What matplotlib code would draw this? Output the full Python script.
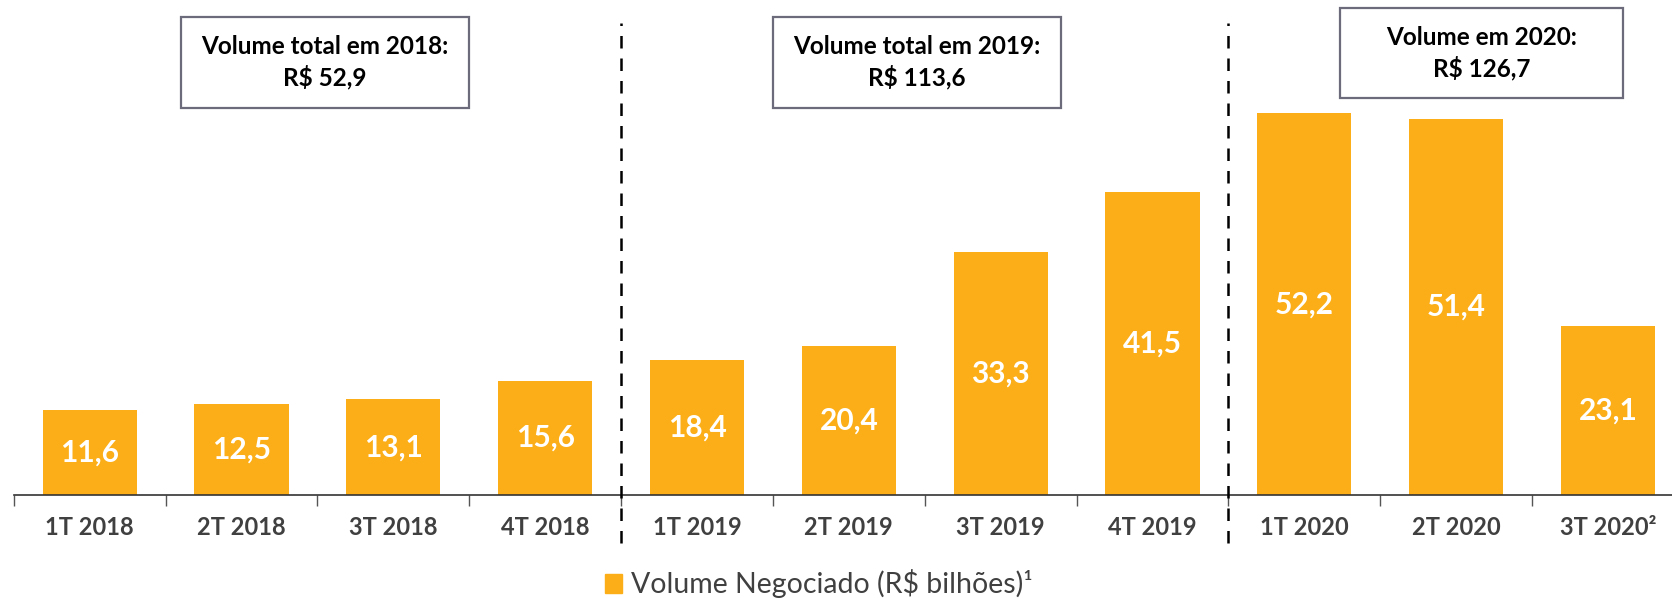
import matplotlib
matplotlib.use("Agg")
import matplotlib.pyplot as plt
from matplotlib.patches import Rectangle
import numpy as np

categories = ["1T 2018", "2T 2018", "3T 2018", "4T 2018",
              "1T 2019", "2T 2019", "3T 2019", "4T 2019",
              "1T 2020", "2T 2020", "3T 2020²"]
values = [11.6, 12.5, 13.1, 15.6, 18.4, 20.4, 33.3, 41.5, 52.2, 51.4, 23.1]
value_labels = ["11,6", "12,5", "13,1", "15,6", "18,4", "20,4", "33,3", "41,5", "52,2", "51,4", "23,1"]
box_texts = ["Volume total em 2018:\nR$ 52,9",
             "Volume total em 2019:\nR$ 113,6",
             "Volume em 2020:\nR$ 126,7"]
legend_label = "Volume Negociado (R$ bilhões)¹"

BAR = "#FBAE17"
FONT = ["Lato", "DejaVu Sans"]
plt.rcParams['font.family'] = FONT

W, H = 1672, 598
fig = plt.figure(figsize=(W / 100, H / 100), dpi=100)
ax = fig.add_axes([13.7 / W, 1 - 495 / H, (1684 - 13.7) / W, 495 / H])

x = np.arange(len(categories))
bars = ax.bar(x, values, width=0.62, color=BAR, zorder=2)
for xi, v, lab in zip(x, values, value_labels):
    ax.text(xi, v / 2, lab, ha="center", va="center", color="white",
            fontsize=21.5, fontweight="bold", zorder=3)

ax.set_xlim(-0.5, len(categories) - 0.5)
ax.set_ylim(0, 67.7)
for s in ["top", "right", "left"]:
    ax.spines[s].set_visible(False)
ax.spines["bottom"].set_color("#333333")
ax.spines["bottom"].set_linewidth(1.2)
ax.set_yticks([])
ax.set_xticks(x)
ax.set_xticklabels(categories, fontsize=17, fontweight="bold", color="#404040")
ax.tick_params(axis="x", which="major", length=0, pad=15)
ax.set_xticks(np.arange(-0.5, len(categories) + 0.5, 1), minor=True)
ax.tick_params(axis="x", which="minor", length=8, color="#555555", width=1)

# dashed separators
for sep in [3.5, 7.5]:
    ax.plot([sep, sep], [-6.5, 64.5], ls=(0, (5, 4)), color="black", lw=1.8,
            clip_on=False, zorder=4)

# boxes (pixel coords from top-left)
boxes = [(181, 17, 469, 108), (773, 17, 1061, 108), (1340, 8, 1623, 98)]
for (x0, y0, x1, y1), t in zip(boxes, box_texts):
    fx0, fx1 = x0 / W, x1 / W
    fy0, fy1 = 1 - y1 / H, 1 - y0 / H
    fig.patches.append(Rectangle((fx0, fy0), fx1 - fx0, fy1 - fy0,
                                 transform=fig.transFigure, facecolor="white",
                                 edgecolor="#6B6B7B", lw=1.6))
    fig.text((fx0 + fx1) / 2, (fy0 + fy1) / 2, t, ha="center", va="center",
             fontsize=17.5, fontweight="bold", color="black", linespacing=1.35)

# legend
leg = fig.legend([Rectangle((0, 0), 1, 1, color=BAR)], [legend_label],
                 loc="center", bbox_to_anchor=(819 / W, 1 - 584 / H),
                 frameon=False, fontsize=20.5, handlelength=0.6, handleheight=0.6,
                 handletextpad=0.3)
for t in leg.get_texts():
    t.set_color("#404040")

fig.savefig("out.png", dpi=100)
